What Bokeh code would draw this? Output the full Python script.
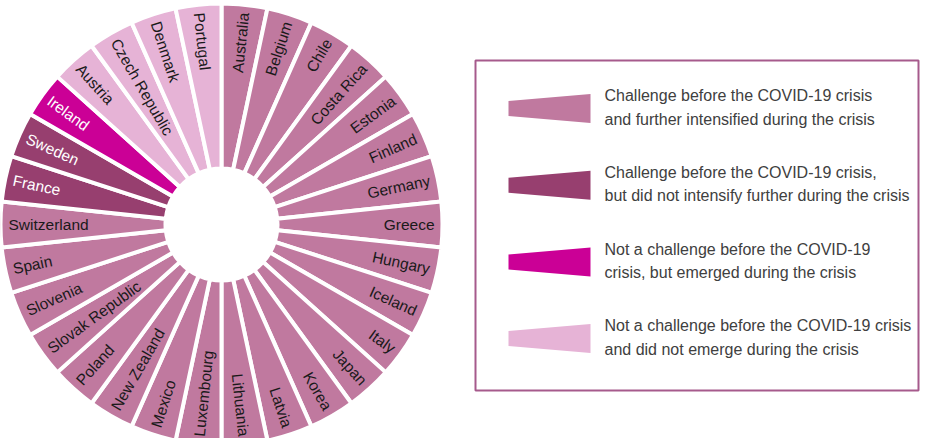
import math
from bokeh.plotting import figure
from bokeh.models import Range1d, ColumnDataSource
from bokeh.core.properties import value
from bokeh.embed import file_html
from bokeh.resources import INLINE

# ---- data ----
countries = ["Australia", "Belgium", "Chile", "Costa Rica", "Estonia", "Finland",
             "Germany", "Greece", "Hungary", "Iceland", "Italy", "Japan", "Korea",
             "Latvia", "Lithuania", "Luxembourg", "Mexico", "New Zealand", "Poland",
             "Slovak Republic", "Slovenia", "Spain", "Switzerland", "France", "Sweden",
             "Ireland", "Austria", "Czech Republic", "Denmark", "Portugal"]
status = [0, 0, 0, 0, 0, 0, 0, 0, 0, 0, 0, 0, 0, 0, 0, 0, 0, 0, 0, 0, 0, 0, 0,
          1, 1, 2, 3, 3, 3, 3]
category_labels = [
    "Challenge before the COVID-19 crisis\nand further intensified  during the crisis",
    "Challenge before the COVID-19 crisis,\nbut did not intensify  further  during the crisis",
    "Not a challenge before the COVID-19\ncrisis, but emerged during the crisis",
    "Not a challenge before the COVID-19 crisis\nand did not emerge during the crisis",
]
category_colors = ["#C0799F", "#973F6F", "#CB0096", "#E6B3D6"]
label_colors = ["#1a1a1a", "#ffffff", "#ffffff", "#1a1a1a"]

# ---- layout ----
W, H = 920, 438
cx, cy = 221, H - 224
r_in, r_out = 56, 221
r_text = 213
n = len(countries)
step = 360.0 / n

p = figure(width=W, height=H, output_backend="svg", toolbar_location=None,
           x_range=Range1d(0, W), y_range=Range1d(0, H), min_border=0)
p.axis.visible = False
p.grid.visible = False
p.outline_line_color = None

starts, ends, cols = [], [], []
tx, ty, tang, talign, tcol = [], [], [], [], []
for i, (c, s) in enumerate(zip(countries, status)):
    a0 = 90 - step * (i + 1)
    a1 = 90 - step * i
    starts.append(math.radians(a0))
    ends.append(math.radians(a1))
    cols.append(category_colors[s])
    mid = (a0 + a1) / 2
    rad = math.radians(mid)
    tx.append(cx + r_text * math.cos(rad))
    ty.append(cy + r_text * math.sin(rad))
    m = mid % 360
    if m < 90 or m > 270:
        tang.append(math.radians(mid))
        talign.append("right")
    else:
        tang.append(math.radians(mid - 180))
        talign.append("left")
    tcol.append(label_colors[s])

src = ColumnDataSource(dict(start=starts, end=ends, color=cols))
p.annular_wedge(x=cx, y=cy, inner_radius=r_in, outer_radius=r_out,
                start_angle="start", end_angle="end", fill_color="color",
                line_color="white", line_width=4, source=src)

tsrc = ColumnDataSource(dict(x=tx, y=ty, text=countries, angle=tang,
                             align=talign, color=tcol))
p.text(x="x", y="y", text="text", angle="angle", text_align="align",
       text_baseline="middle", text_color="color", text_font=value("Liberation Sans"),
       text_font_size="15.5px", source=tsrc)

# ---- legend ----
box_l, box_r, box_t, box_b = 475, 918, H - 60, H - 390
p.quad(left=box_l, right=box_r, top=box_t, bottom=box_b, fill_color=None,
       line_color="#A65A8C", line_width=2)

item_y0 = H - 108
item_dy = 76.7
sw_l, sw_r = 508, 590
for k, (lab, col) in enumerate(zip(category_labels, category_colors)):
    yc = item_y0 - k * item_dy
    p.patch(x=[sw_l, sw_r, sw_r, sw_l],
            y=[yc - 7.5, yc - 14.5, yc + 14.5, yc + 7.5],
            fill_color=col, line_color=None)
    p.text(x=[604], y=[yc + 1], text=[lab], text_align="left",
           text_baseline="middle", text_color="#404040",
           text_font=value("Liberation Sans"), text_font_size="16px",
           text_line_height=1.38)

open("out.html", "w").write(file_html(p, INLINE))
